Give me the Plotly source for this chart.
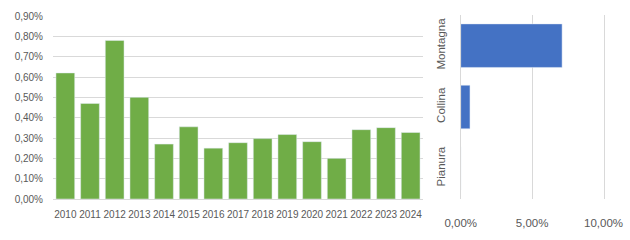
import plotly.graph_objects as go

years = [str(y) for y in range(2010, 2025)]
rates = [0.0062, 0.0047, 0.0078, 0.0050, 0.0027, 0.00355, 0.0025, 0.00277,
         0.00297, 0.00317, 0.00282, 0.0020, 0.00341, 0.00351, 0.00327]

zones = ["Pianura", "Collina", "Montagna"]
zone_rates = [0.0, 0.0065, 0.0710]

left_ticks = [i / 1000 for i in range(0, 10)]
right_ticks = [0.0, 0.05, 0.10]

W, H = 630, 240
txt = "#595959"
grid = "#d9d9d9"
font = dict(family="Liberation Sans, Arial, sans-serif", size=10, color=txt)

fig = go.Figure()
fig.add_trace(go.Bar(x=years, y=rates, marker_color="#70AD47", xaxis="x", yaxis="y",
                     hoverinfo="skip"))
fig.add_trace(go.Bar(x=zone_rates, y=zones, orientation="h", marker_color="#4472C4",
                     xaxis="x2", yaxis="y2", hoverinfo="skip"))

fig.update_layout(
    width=W, height=H, margin=dict(l=0, r=0, t=0, b=0, autoexpand=False),
    paper_bgcolor="white", plot_bgcolor="white",
    showlegend=False, separators=",.", font=font, bargap=0.24,
    xaxis=dict(domain=[53 / W, 423 / W], anchor="y", type="category", automargin=False,
               showgrid=False, showline=True, linecolor=grid, linewidth=1, tickangle=0,
               ticks="", ticklabelstandoff=6, tickfont=dict(size=10, color=txt)),
    yaxis=dict(domain=[(H - 199) / H, (H - 16) / H], anchor="x", range=[0, 0.009],
               automargin=False,
               tickvals=left_ticks, tickformat=".2%", showgrid=True, gridcolor=grid,
               zeroline=False, showline=False, ticks="", ticklabelstandoff=9,
               tickfont=dict(size=10, color=txt)),
    xaxis2=dict(domain=[460.7 / W, 603.5 / W], anchor="y2", range=[0, 0.10],
                automargin=False, tickangle=0,
                tickvals=right_ticks, tickformat=".2%", showgrid=True, gridcolor=grid,
                zeroline=False, showline=False, ticks="", ticklabelstandoff=15,
                tickfont=dict(size=11.5, color=txt)),
    yaxis2=dict(domain=[(H - 199) / H, (H - 15) / H], anchor="x2", type="category",
                automargin=False, showline=True, mirror=True, linecolor=grid, linewidth=1,
                showgrid=False, ticks="", tickangle=-90,
                ticklabelstandoff=10, tickfont=dict(size=11.5, color=txt)),
)
fig.update_traces(width=0.71, selector=dict(orientation="h"))
fig.update_traces(width=0.76, selector=dict(xaxis="x"))

fig.write_html("out.html")
